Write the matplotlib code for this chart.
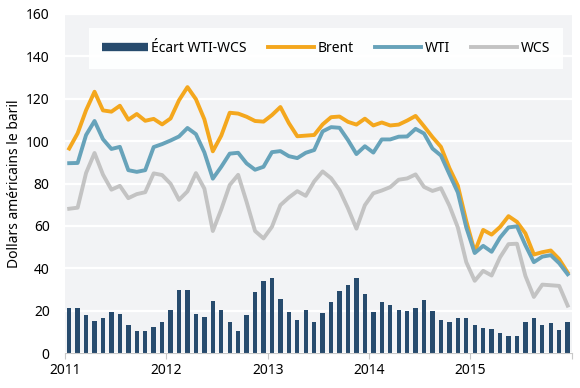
import numpy as np
import matplotlib.pyplot as plt
from matplotlib.lines import Line2D

# monthly prices, Jan 2011 - Dec 2015 (USD per barrel)
brent = [96.5, 103.7, 114.6, 123.3, 114.5, 113.9, 116.7, 110.1, 112.8, 109.6, 110.5, 107.9,
         110.7, 119.3, 125.5, 119.8, 110.3, 95.2, 102.6, 113.4, 113.0, 111.5, 109.5, 109.2,
         112.3, 116.1, 108.5, 102.3, 102.6, 102.9, 107.9, 111.3, 111.6, 109.1, 107.8, 110.6,
         107.4, 108.8, 107.4, 107.8, 109.7, 111.9, 107.0, 101.9, 97.3, 87.3, 79.0, 62.3,
         47.8, 58.1, 55.9, 59.5, 64.6, 61.9, 56.5, 46.5, 47.6, 48.4, 44.3, 38.0]
wti = [89.6, 89.7, 102.9, 109.5, 100.9, 96.3, 97.3, 86.3, 85.5, 86.3, 97.2, 98.6,
       100.3, 102.2, 106.2, 103.3, 94.7, 82.3, 87.9, 94.1, 94.5, 89.5, 86.5, 87.9,
       94.8, 95.3, 92.9, 92.0, 94.5, 95.8, 104.6, 106.6, 106.3, 100.5, 93.9, 97.6,
       94.6, 100.8, 100.8, 102.1, 102.2, 105.8, 103.6, 96.5, 93.2, 84.4, 75.8, 59.3,
       47.2, 50.6, 47.8, 54.5, 59.3, 59.8, 50.9, 42.9, 45.5, 46.2, 42.4, 37.2]
wcs = [68.1, 68.6, 85.0, 94.4, 84.2, 77.1, 78.9, 73.1, 75.0, 75.9, 84.8, 84.0,
       79.9, 72.3, 76.3, 84.9, 77.6, 57.6, 67.8, 79.3, 84.1, 71.3, 57.6, 54.1,
       59.6, 69.8, 73.4, 76.4, 74.2, 81.0, 85.7, 82.5, 76.9, 68.3, 58.7, 69.8,
       75.4, 76.7, 78.3, 81.8, 82.4, 84.3, 78.4, 76.5, 77.8, 69.6, 59.3, 42.9,
       34.1, 38.8, 36.6, 45.2, 51.4, 51.6, 36.4, 26.5, 32.3, 32.0, 31.7, 22.4]
spread = [21.5, 21.1, 17.9, 15.1, 16.7, 19.2, 18.4, 13.2, 10.5, 10.4, 12.4, 14.6,
          20.4, 29.9, 29.9, 18.4, 17.1, 24.7, 20.1, 14.8, 10.4, 18.2, 28.9, 33.8,
          35.2, 25.5, 19.5, 15.6, 20.3, 14.8, 18.9, 24.1, 29.4, 32.2, 35.2, 27.8,
          19.2, 24.1, 22.5, 20.3, 19.8, 21.5, 25.2, 20.0, 15.4, 14.8, 16.5, 16.4,
          13.1, 11.8, 11.2, 9.3, 7.9, 8.2, 14.5, 16.4, 13.2, 14.2, 10.7, 14.8]
years = [2011, 2012, 2013, 2014, 2015]

x = 2011 + (np.arange(len(brent)) + 0.5) / 12

c_bar, c_brent, c_wti, c_wcs = '#274b6d', '#f4a71d', '#67a3ba', '#c3c3c3'

plt.rcParams['font.family'] = ['Noto Sans', 'DejaVu Sans']

fig = plt.figure(figsize=(5.8, 3.88), dpi=100)
ax = fig.add_axes([0.112, 0.09, 0.874, 0.874])
ax.set_facecolor('#f2f3f5')
ax.grid(axis='y', color='white', linewidth=1.6)
ax.set_axisbelow(True)

ax.bar(x, spread, width=0.043, color=c_bar, zorder=2)
l_brent, = ax.plot(x, brent, color=c_brent, lw=2.8, zorder=3)
l_wti, = ax.plot(x, wti, color=c_wti, lw=2.8, zorder=4)
l_wcs, = ax.plot(x, wcs, color=c_wcs, lw=2.8, zorder=2.5)

ax.set_xlim(2011, 2016)
ax.set_ylim(0, 160)
ax.set_yticks(range(0, 161, 20))
ax.set_xticks(years + [2016])
ax.set_xticklabels([str(y) for y in years] + [''])
for s in ['top', 'right', 'left']:
    ax.spines[s].set_visible(False)
ax.spines['bottom'].set_color('#c8c8c8')
ax.tick_params(axis='y', length=0, labelsize=10, pad=11)
ax.tick_params(axis='x', length=4, color='#c8c8c8', labelsize=10, pad=3)
ax.set_ylabel('Dollars américains le baril', fontsize=10, labelpad=3)

bar_handle = Line2D([], [], color=c_bar, lw=6, solid_capstyle='butt')
ax.legend([bar_handle, l_brent, l_wti, l_wcs], ['Écart WTI-WCS', 'Brent', 'WTI', 'WCS'],
          loc='upper center', ncol=4, bbox_to_anchor=(0.515, 0.98), fontsize=10,
          frameon=True, fancybox=False, edgecolor='none', framealpha=0.92,
          handlelength=3.3, columnspacing=1.55, handletextpad=0.25, borderpad=0.95)

fig.savefig('out.png', dpi=100)
